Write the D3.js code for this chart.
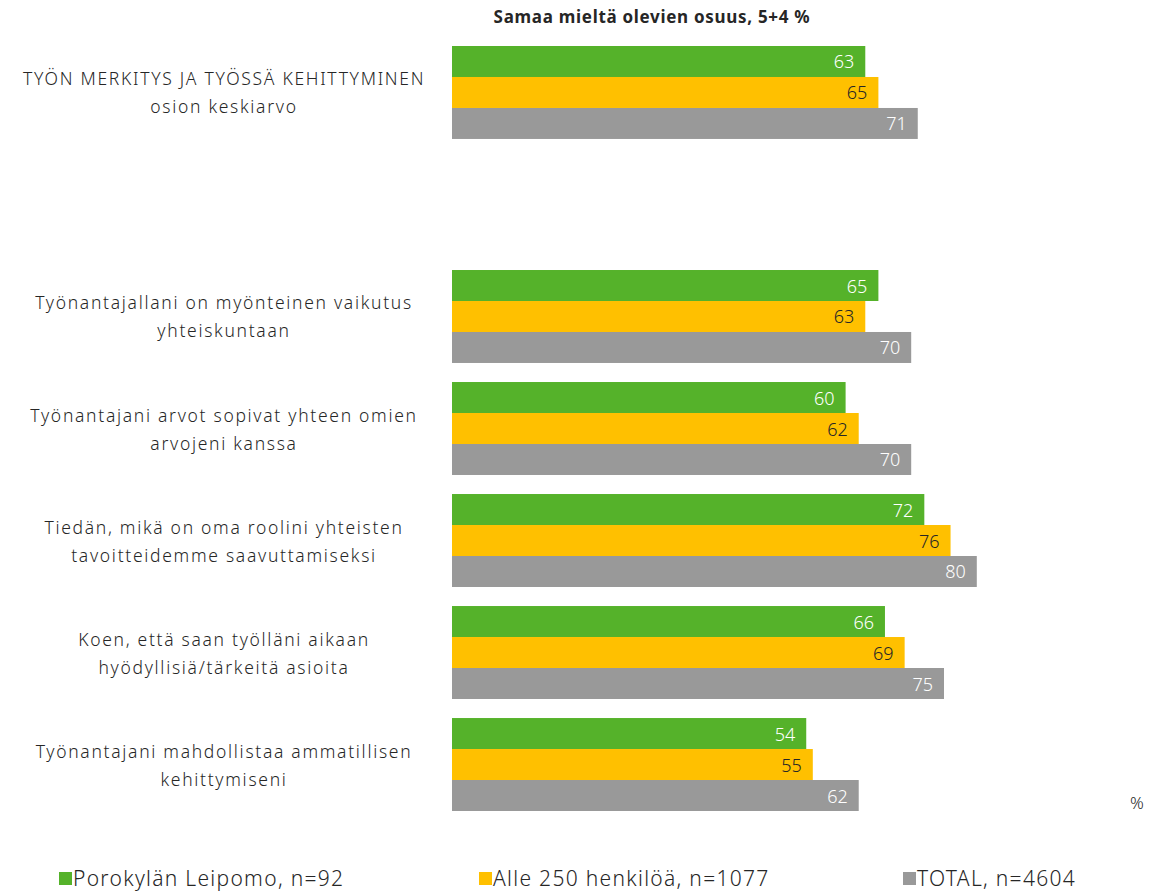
<!DOCTYPE html>
<html lang="fi">
<head>
<meta charset="UTF-8">
<script src="https://cdn.jsdelivr.net/npm/d3@7/dist/d3.min.js"></script>
<style>
    body, html { margin: 0; padding: 0; background: #fff; }
    text { font-family: "Noto Sans", "DejaVu Sans", sans-serif; }
</style>
</head>
<body>
<div id="chart"></div>
<script>
// categories (two-line labels), "" = empty spacer row
const categories = [
    ["TYÖN MERKITYS JA TYÖSSÄ KEHITTYMINEN", "osion keskiarvo"],
    ["", ""],
    ["Työnantajallani on myönteinen vaikutus", "yhteiskuntaan"],
    ["Työnantajani arvot sopivat yhteen omien", "arvojeni kanssa"],
    ["Tiedän, mikä on oma roolini yhteisten", "tavoitteidemme saavuttamiseksi"],
    ["Koen, että saan työlläni aikaan", "hyödyllisiä/tärkeitä asioita"],
    ["Työnantajani mahdollistaa ammatillisen", "kehittymiseni"]
]
const seriesNames = ["Porokylän Leipomo, n=92", "Alle 250 henkilöä, n=1077", "TOTAL, n=4604"]
const porokyla = [63, null, 65, 60, 72, 66, 54]
const alle250 = [65, null, 63, 62, 76, 69, 55]
const total = [71, null, 70, 70, 80, 75, 62]
const colors = ["#55b22a", "#ffc000", "#999999"]
const labelColors = ["#ffffff", "#262626", "#ffffff"]

const width = 1162, height = 892
const svg = d3.select("#chart").append("svg").attr("width", width).attr("height", height)

const x = d3.scaleLinear().domain([0, 100]).range([452, 1108])
const y = d3.scaleBand().domain(d3.range(categories.length)).range([46, 811]).paddingInner(0.17).paddingOuter(0)
const yInner = d3.scaleBand().domain([0, 1, 2]).range([0, y.bandwidth()])

// title
svg.append("text").attr("x", 652).attr("y", 23).attr("text-anchor", "middle")
    .attr("font-size", 17).attr("font-weight", "bold").attr("letter-spacing", 0.7).attr("fill", "#262626")
    .text("Samaa mieltä olevien osuus, 5+4 %")

const series = [porokyla, alle250, total]
const g = svg.append("g")
series.forEach((vals, s) => {
    vals.forEach((v, i) => {
        if (v == null) return
        const y0 = y(i) + yInner(s)
        g.append("rect").attr("x", x(0)).attr("y", y0)
            .attr("width", x(v) - x(0)).attr("height", yInner.bandwidth())
            .attr("fill", colors[s])
        g.append("text").attr("x", x(v) - 11).attr("y", y0 + yInner.bandwidth() / 2 + 7)
            .attr("text-anchor", "end").attr("font-size", 18).attr("font-weight", 300)
            .attr("fill", labelColors[s]).text(v)
    })
})

// category labels
categories.forEach((c, i) => {
    const cy = y(i) + y.bandwidth() / 2
    c.forEach((line, k) => {
        svg.append("text").attr("x", 224).attr("y", cy - 7 + k * 28)
            .attr("text-anchor", "middle").attr("font-size", 17.5).attr("font-weight", 300)
            .attr("letter-spacing", 1.7).attr("fill", "#262626").text(line)
    })
})

svg.append("text").attr("x", 1137).attr("y", 809).attr("text-anchor", "middle")
    .attr("font-size", 17).attr("font-weight", 300).attr("fill", "#262626").text("%")

// legend
const legendX = [59, 479, 903]
seriesNames.forEach((n, s) => {
    svg.append("rect").attr("x", legendX[s]).attr("y", 872).attr("width", 13).attr("height", 13).attr("fill", colors[s])
    svg.append("text").attr("x", legendX[s] + 14).attr("y", 886).attr("font-size", 21).attr("font-weight", 300)
        .attr("letter-spacing", 1.3).attr("fill", "#262626").text(n)
})
</script>
</body>
</html>
